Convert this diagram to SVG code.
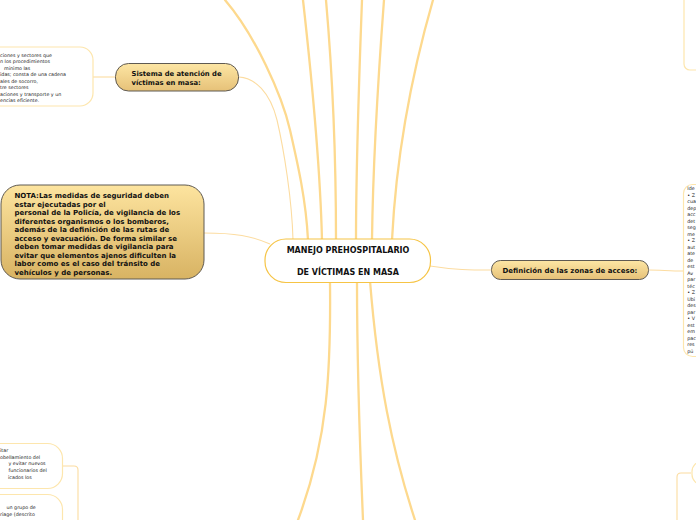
<svg xmlns="http://www.w3.org/2000/svg" width="696" height="520" viewBox="0 0 696 520">
<style>
.thick{fill:none;stroke:#fdd98e;stroke-width:2.3;stroke-linecap:round}
.thin{fill:none;stroke:#fcdca0;stroke-width:1.1}
.note{fill:#fff;stroke:#fde6ad;stroke-width:1.2}
.gold{stroke:#5f5a52;stroke-width:1}
.b{font-family:"DejaVu Sans",Verdana,sans-serif;font-weight:bold;fill:#111}
.s{font-family:"DejaVu Sans",Verdana,sans-serif;font-size:4.8px;fill:#222}
</style>
<defs>
<linearGradient id="g1" x1="0" y1="0" x2="0" y2="1">
<stop offset="0" stop-color="#fde6a4"/>
<stop offset="1" stop-color="#e6c178"/>
</linearGradient>
<linearGradient id="g2" x1="0" y1="0" x2="0" y2="1">
<stop offset="0" stop-color="#fde49f"/>
<stop offset="1" stop-color="#d8b363"/>
</linearGradient>
</defs>
<g id="connectors">
<path class="thick" d="M225,0 C255,35 282,95 290,130 C298,165 306,200 308,240"/>
<path class="thick" d="M303,0 C312,80 320,160 322,240"/>
<path class="thick" d="M326,0 C333,80 336,160 336,240"/>
<path class="thick" d="M362,0 C359,80 356,160 356,240"/>
<path class="thick" d="M384,0 C378,80 373,160 372,240"/>
<path class="thick" d="M433,0 C410,80 396,160 392,240"/>
<path class="thick" d="M330,281 C331,370 328,440 298,520"/>
<path class="thick" d="M357,281 C357,380 360,450 363,520"/>
<path class="thick" d="M370,281 C378,380 392,450 415,520"/>
<path class="thin" d="M239,77 C255,78 270,92 277,120 C284,150 292,200 293,240"/>
<path class="thin" d="M93,77 L116,77"/>
<path class="thin" d="M204,233 C235,233 252,236 270,244"/>
<path class="thin" d="M430,266 C455,270 470,270 492,270"/>
<path class="thin" d="M649,270 C660,270 670,271 683,271"/>
<path class="thin" d="M62,466 L74,466 Q78,466 78,470 L78,520"/>
<path class="thin" d="M691,473 L681,473 Q677,473 677,477 L677,520"/>
</g>
<g id="node-topleft">
<rect class="note" x="-40" y="47" width="133" height="59" rx="13"/>
<text class="s" x="0" y="56.5">ciones y sectores que</text>
<text class="s" x="0" y="63">n los procedimientos</text>
<text class="s" x="4" y="69.5"> mínimo las</text>
<text class="s" x="0" y="76">idas; consta de una cadena</text>
<text class="s" x="0" y="82.5">ales de socorro,</text>
<text class="s" x="0" y="89">tre sectores</text>
<text class="s" x="0" y="95.5">aciones y transporte y un</text>
<text class="s" x="0" y="102">encias eficiente.</text>
</g>
<g id="node-sistema">
<rect class="gold" x="115.5" y="63.5" width="123" height="27.5" rx="13" fill="url(#g1)"/>
<text class="b" font-size="6.8" x="131.5" y="75.5">Sistema de atención de</text>
<text class="b" font-size="6.8" x="131.5" y="84.5">víctimas en masa:</text>
</g>
<g id="node-nota">
<rect class="gold" x="1" y="185" width="203" height="94" rx="19" fill="url(#g2)"/>
<g class="b" font-size="7">
<text x="14.5" y="198">NOTA:Las medidas de seguridad deben</text>
<text x="14.5" y="206.5">estar ejecutadas por el</text>
<text x="14.5" y="215"> personal de la Policía, de vigilancia de los</text>
<text x="14.5" y="223.5">diferentes organismos o los bomberos,</text>
<text x="14.5" y="232">además de la definición de las rutas de</text>
<text x="14.5" y="240.5">acceso y evacuación. De forma similar se</text>
<text x="14.5" y="249">deben tomar medidas de vigilancia para</text>
<text x="14.5" y="257.5">evitar que elementos ajenos dificulten la</text>
<text x="14.5" y="266">labor como es el caso del tránsito de</text>
<text x="14.5" y="274.5">vehículos y de personas.</text>
</g>
</g>
<g id="node-center">
<rect x="265" y="239" width="165.5" height="43.5" rx="21" fill="#fff" stroke="#f6c445" stroke-width="1.2"/>
<text class="b" font-size="8" x="348" y="252.8" text-anchor="middle">MANEJO PREHOSPITALARIO</text>
<text class="b" font-size="8" x="348" y="275" text-anchor="middle">DE VÍCTIMAS EN MASA</text>
</g>
<g id="node-definicion">
<rect class="gold" x="491.5" y="260.5" width="157" height="19" rx="9" fill="url(#g1)"/>
<text class="b" font-size="7" x="502.5" y="273">Definición de las zonas de acceso:</text>
</g>
<g id="node-zonas">
<rect class="note" x="683.5" y="184.5" width="60" height="172" rx="9"/>
<g class="s">
<text x="687.3" y="190">Ide</text>
<text x="687.3" y="196.5">• Z</text>
<text x="687.3" y="203">cua</text>
<text x="687.3" y="209.5">dep</text>
<text x="687.3" y="216">acc</text>
<text x="687.3" y="222.5">det</text>
<text x="687.3" y="229">seg</text>
<text x="687.3" y="235.5">me</text>
<text x="687.3" y="242">• Z</text>
<text x="687.3" y="248.5">aut</text>
<text x="687.3" y="255">ate</text>
<text x="687.3" y="261.5">de</text>
<text x="687.3" y="268">est</text>
<text x="687.3" y="274.5">Av</text>
<text x="687.3" y="281">par</text>
<text x="687.3" y="287.5">téc</text>
<text x="687.3" y="294">• Z</text>
<text x="687.3" y="300.5">Ubi</text>
<text x="687.3" y="307">des</text>
<text x="687.3" y="313.5">par</text>
<text x="687.3" y="320">• V</text>
<text x="687.3" y="326.5">est</text>
<text x="687.3" y="333">em</text>
<text x="687.3" y="339.5">pac</text>
<text x="687.3" y="346">res</text>
<text x="687.3" y="352.5">pú</text>
</g>
</g>
<g id="node-topright">
<rect class="note" x="684" y="-20" width="40" height="90" rx="6"/>
</g>
<g id="node-bottomleft1">
<rect class="note" x="-40" y="443.5" width="102.5" height="45" rx="15"/>
<g class="s">
<text x="0" y="452">itar</text>
<text x="0" y="458.7">obellamiento del</text>
<text x="8.5" y="465.4">y evitar nuevos</text>
<text x="8.5" y="472.1">funcionarios del</text>
<text x="8" y="478.8">icados los</text>
</g>
</g>
<g id="node-bottomleft2">
<rect class="note" x="-40" y="494.5" width="102.5" height="50" rx="15"/>
<g class="s">
<text x="6.5" y="509">un grupo de</text>
<text x="0" y="515.7">riage (descrito</text>
</g>
</g>
<g id="node-bottomright">
<rect class="note" x="692" y="461.5" width="40" height="23" rx="10"/>
</g>
</svg>
